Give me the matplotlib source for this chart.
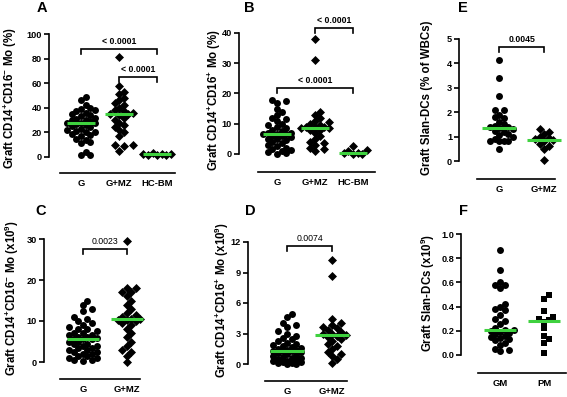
import numpy as np
import matplotlib
matplotlib.use("Agg")
import matplotlib.pyplot as plt

plt.rcParams['font.family'] = ['Liberation Sans', 'DejaVu Sans']
plt.rcParams['font.weight'] = 'bold'
plt.rcParams['mathtext.fontset'] = 'custom'
plt.rcParams['mathtext.rm'] = 'Liberation Sans:bold'
plt.rcParams['mathtext.bf'] = 'Liberation Sans:bold'
plt.rcParams['mathtext.default'] = 'bf'

# ---------------- data ----------------
A_cats = ["G", "G+MZ", "HC-BM"]
A_G = [49, 46, 42, 40, 39, 38, 37, 36, 35, 34, 33, 32, 31, 30, 30, 29, 28, 28, 28, 27, 26,
       25, 24, 23, 22, 21, 20, 20, 19, 18, 17, 15, 14, 12, 11, 4, 2, 1.5]
A_GMZ = [81, 58, 53, 51, 48, 46, 44, 42, 40, 38, 37, 36, 35, 35, 34, 32, 30, 28, 26, 24,
         22, 20, 17, 10, 10, 9, 5]
A_HC = [1.5, 2, 2.5, 3, 1.8, 2.2, 2.7]

B_cats = ["G", "G+MZ", "HC-BM"]
B_G = [18, 17.5, 17, 15, 14, 13, 12, 11.5, 11, 10, 9.5, 9, 8.5, 8, 7.5, 7, 7, 6.5, 6.5, 6.5,
       6, 6, 5.5, 5, 5, 4.5, 4, 3.5, 3, 2.5, 2, 1.5, 1, 0.5, 0.2, 1.2, 0.0]
B_GMZ = [38, 31, 14, 13, 12, 11, 10.5, 10, 9.5, 9, 9, 8.8, 8.7, 8.5, 8, 8, 7, 6, 5, 4, 3.5,
         3, 2, 1.5, 1]
B_HC = [2.5, 1.2, 1.0, 0.3, 0.2, 0.1, 0.0]

E_cats = ["G", "G+MZ"]
E_G = [4.15, 3.4, 2.65, 2.1, 2.1, 1.9, 1.8, 1.75, 1.6, 1.5, 1.45, 1.4, 1.38, 1.35, 1.3, 1.25,
       1.2, 1.1, 1.05, 1.0, 0.9, 0.8, 0.8, 0.8, 0.8, 0.5]
E_GMZ = [1.3, 1.2, 1.1, 1.0, 0.95, 0.9, 0.85, 0.8, 0.7, 0.6, 0.5, 0.05]

C_cats = ["G", "G+MZ"]
C_G = [15, 14, 13, 12.5, 11, 10.5, 10, 9.5, 9, 8.5, 8, 8, 7.5, 7, 7, 6.5, 6.5, 6, 6, 5.8,
       5.7, 5.6, 5.5, 5, 5, 4.5, 4.5, 4, 4, 3.5, 3.5, 3, 3, 2.5, 2.5, 2, 2, 1.5, 1.5, 1, 1,
       0.5, 0.5, 0.3]
C_GMZ = [29.5, 18, 18, 17, 17, 16, 15, 14, 13, 12, 11.5, 11, 10.5, 10.5, 10.3, 10.2, 10,
         9.5, 9, 8, 7, 6, 5, 4, 3, 2.5, 1.5, 0]

D_cats = ["G", "G+MZ"]
D_G = [4.9, 4.6, 4.0, 3.8, 3.6, 3.2, 3.0, 2.8, 2.6, 2.5, 2.3, 2.1, 2.0, 1.9, 1.8, 1.7, 1.6,
       1.5, 1.4, 1.35, 1.3, 1.3, 1.25, 1.2, 1.1, 1.0, 0.9, 0.8, 0.7, 0.6, 0.5, 0.4, 0.3, 0.2,
       0.15, 0.1, 0.05, 0.0, 0.0, 0.3, 0.6]
D_GMZ = [10.2, 8.7, 4.4, 4.0, 3.8, 3.6, 3.5, 3.3, 3.1, 3.0, 2.95, 2.9, 2.8, 2.7, 2.5, 2.3,
         2.0, 1.8, 1.5, 1.2, 1.0, 0.8, 0.5, 0.1]

F_cats = ["GM", "PM"]
F_GM = [0.87, 0.70, 0.60, 0.58, 0.58, 0.55, 0.42, 0.40, 0.38, 0.37, 0.33, 0.30, 0.28, 0.26,
        0.22, 0.21, 0.205, 0.20, 0.19, 0.18, 0.17, 0.16, 0.15, 0.14, 0.13, 0.12, 0.10, 0.08,
        0.05, 0.04, 0.03]
F_PM = [0.50, 0.46, 0.36, 0.31, 0.30, 0.29, 0.27, 0.22, 0.16, 0.13, 0.10, 0.02]

GREEN = '#3fd13f'
W, H = 567, 397
fig = plt.figure(figsize=(W / 100, H / 100), dpi=100)


def make_ax(left, right, y0, ytop, ymax, yaxis_x, xaxis_y, xlim, ticks, ticklabels):
    ax = fig.add_axes([left / W, 1 - y0 / H, (right - left) / W, (y0 - ytop) / H])
    ax.set_ylim(0, ymax)
    ax.set_xlim(*xlim)
    for s in ['top', 'right']:
        ax.spines[s].set_visible(False)
    ax.spines['left'].set_position(('outward', (left - yaxis_x) * 0.72))
    ax.spines['bottom'].set_position(('outward', (xaxis_y - y0) * 0.72))
    ax.spines['left'].set_bounds(0, ymax)
    for s in ['left', 'bottom']:
        ax.spines[s].set_linewidth(1.2)
    ax.set_yticks(ticks)
    ax.set_yticklabels(ticklabels, fontsize=6.6, fontweight='bold')
    ax.tick_params(axis='y', length=3.5, width=1.2, pad=1.5)
    ax.tick_params(axis='x', length=0, pad=4)
    ax.patch.set_visible(False)
    return ax


def swarm(ax, xc, vals, marker, size, d_px, maxk=3):
    trans = ax.transData
    inv = trans.inverted()
    placed = []
    xs, ys = [], []
    step = d_px * 0.65
    mind = d_px * 0.72
    for v in sorted(vals):
        px0, py = trans.transform((xc, v))
        k_list = [0]
        for k in range(1, maxk + 1):
            k_list += [k, -k]
        best, best_d = None, -1
        for k in k_list:
            px = px0 + k * step
            dmin = min([np.hypot(px - qx, py - qy) for qx, qy in placed] or [1e9])
            if dmin >= mind:
                best = px
                break
            if dmin > best_d:
                best_d, best = dmin, px
        placed.append((best, py))
        xd, _ = inv.transform((best, py))
        xs.append(xd)
        ys.append(v)
    ax.scatter(xs, ys, marker=marker, s=size, c='black', linewidths=0, clip_on=False, zorder=3)
    med = np.median(vals)
    ax.plot([xc - 0.37, xc + 0.37], [med, med], color=GREEN, lw=2.2, zorder=4,
            solid_capstyle='butt', clip_on=False)


def bracket(ax, x1, x2, y, arm, text, bold=True, fs=6.3):
    ax.plot([x1, x1, x2, x2], [y - arm, y, y, y - arm], color='black', lw=1.2, clip_on=False,
            solid_joinstyle='miter')
    ax.annotate(text, xy=((x1 + x2) / 2, y), xytext=(0, 2), textcoords='offset points',
                ha='center', va='bottom', fontsize=fs,
                fontweight='bold' if bold else 'normal', annotation_clip=False)


def cats(ax, labels):
    ax.set_xticks(range(len(labels)))
    ax.set_xticklabels(labels, fontsize=6.8, fontweight='bold')


MS = {'o': 25, 'D': 21, 's': 24}
D_PX = 7.0

# Panel A
axA = make_ax(60, 175, 157, 34, 100, 49, 173, (-0.553, 2.47), [0, 20, 40, 60, 80, 100],
              ['0', '20', '40', '60', '80', '100'])
cats(axA, A_cats)
swarm(axA, 0, A_G, 'o', MS['o'], D_PX)
swarm(axA, 1, A_GMZ, 'D', MS['D'], D_PX)
swarm(axA, 2, A_HC, 'D', MS['D'], D_PX)
bracket(axA, 0, 2, 88, 4, '< 0.0001')
bracket(axA, 1, 2, 65, 4, '< 0.0001')

# Panel B
axB = make_ax(258, 375, 154, 33, 40, 239, 172, (-0.5, 2.58), [0, 10, 20, 30, 40],
              ['0', '10', '20', '30', '40'])
cats(axB, B_cats)
swarm(axB, 0, B_G, 'o', MS['o'], D_PX)
swarm(axB, 1, B_GMZ, 'D', MS['D'], D_PX)
swarm(axB, 2, B_HC, 'D', MS['D'], D_PX)
bracket(axB, 1, 2, 41.6, 1.6, '< 0.0001')
bracket(axB, 0, 2, 21.8, 1.6, '< 0.0001')

# Panel E
axE = make_ax(477, 555, 161, 39, 5, 459, 179, (-0.49, 1.24), [0, 1, 2, 3, 4, 5],
              ['0', '1', '2', '3', '4', '5'])
cats(axE, E_cats)
swarm(axE, 0, E_G, 'o', MS['o'], D_PX)
swarm(axE, 1, E_GMZ, 'D', MS['D'], D_PX)
bracket(axE, 0, 1, 4.67, 0.2, '0.0045')

# Panel C
axC = make_ax(60, 140, 362, 239, 30, 44, 379, (-0.52, 1.30), [0, 10, 20, 30],
              ['0', '10', '20', '30'])
cats(axC, C_cats)
swarm(axC, 0, C_G, 'o', MS['o'], D_PX)
swarm(axC, 1, C_GMZ, 'D', MS['D'], D_PX)
bracket(axC, 0, 1, 27.6, 1.2, '0.0023', bold=False)

# Panel D
axD = make_ax(265, 347, 364, 242, 12, 248, 381, (-0.49, 1.33), [0, 3, 6, 9, 12],
              ['0', '3', '6', '9', '12'])
cats(axD, D_cats)
swarm(axD, 0, D_G, 'o', MS['o'], D_PX)
swarm(axD, 1, D_GMZ, 'D', MS['D'], D_PX)
bracket(axD, 0, 1, 11.6, 0.5, '0.0074', bold=False)

# Panel F
axF = make_ax(478, 566, 355, 234, 1.0, 461, 373, (-0.5, 1.5), [0, 0.2, 0.4, 0.6, 0.8, 1.0],
              ['0.0', '0.2', '0.4', '0.6', '0.8', '1.0'])
cats(axF, F_cats)
swarm(axF, 0, F_GM, 'o', MS['o'], D_PX)
swarm(axF, 1, F_PM, 's', MS['s'], D_PX)

# y labels
ylabels = [
    (10, 98, r'Graft CD14$^{+}$CD16$^{-}$ Mo (%)'),
    (214, 100, r'Graft CD14$^{+}$CD16$^{+}$ Mo (%)'),
    (427, 98, 'Graft Slan-DCs (% of WBCs)'),
    (12, 298, r'Graft CD14$^{+}$CD16$^{-}$ Mo (x10$^{9}$)'),
    (222, 300, r'Graft CD14$^{+}$CD16$^{+}$ Mo (x10$^{9}$)'),
    (428, 293, r'Graft Slan-DCs (x10$^{9}$)'),
]
for x, y, t in ylabels:
    fig.text(x / W, 1 - y / H, t, rotation=90, ha='center', va='center', fontsize=8.3,
             fontweight='bold')

# panel letters
letters = [(42, 8, 'A'), (249, 8, 'B'), (463, 8, 'E'), (41, 211, 'C'), (250, 211, 'D'),
           (463, 211, 'F')]
for x, y, t in letters:
    fig.text(x / W, 1 - y / H, t, ha='center', va='center', fontsize=10.5, fontweight='bold')

fig.savefig('out.png', dpi=100)
